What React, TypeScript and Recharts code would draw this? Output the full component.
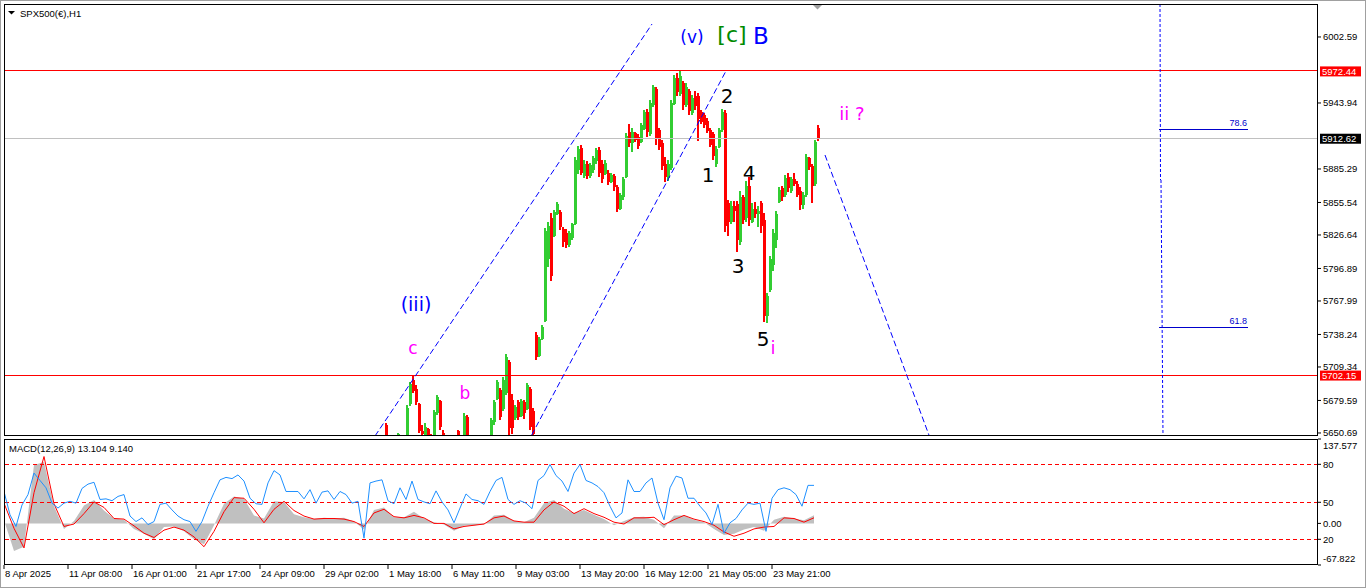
import { Area, Bar, ComposedChart, Line, ReferenceDot, ReferenceLine, XAxis, YAxis } from 'recharts'

const FONT = "'Liberation Sans', Arial, sans-serif"
const WAVE_FONT = "'DejaVu Sans', Verdana, sans-serif"
const BULL = '#32cd32'
const BEAR = '#ff0000'

// H1 bars, one sample every 3 bars from bar 376: [open, high, low, close]
const CANDLE_FIRST_BAR = 376
const CANDLE_STEP = 3
const candles: [number, number, number, number][] = [
  [5630, 5640, 5622, 5636], [5636, 5642, 5628, 5632], [5658, 5659.6, 5645, 5646], [5640, 5644, 5630, 5636],
  [5636, 5642, 5628, 5638], [5638, 5645, 5632, 5642], [5645, 5650.7, 5644, 5650], [5645, 5646, 5635, 5640],
  [5640, 5645, 5632, 5644], [5645, 5675.6, 5644, 5673], [5676, 5696, 5675, 5694], [5698, 5701.5, 5686, 5688],
  [5690, 5693.4, 5675.6, 5678], [5676, 5677.4, 5650.7, 5652], [5652, 5657.8, 5646, 5650], [5647, 5659.6, 5645, 5656],
  [5654, 5655, 5645, 5648], [5649, 5650, 5640, 5645], [5649, 5671, 5648, 5669], [5668, 5684.5, 5666.6, 5683],
  [5679, 5680, 5653, 5656], [5651, 5653, 5646, 5648], [5646, 5648, 5640, 5644], [5644, 5646, 5636, 5640],
  [5640, 5644, 5634, 5642], [5642, 5646, 5636, 5638], [5652, 5653, 5645, 5647], [5646, 5647, 5638, 5644],
  [5647, 5668.5, 5645, 5666], [5665, 5666.7, 5645, 5648], [5646, 5648, 5638, 5642], [5642, 5646, 5634, 5640],
  [5640, 5644, 5632, 5638], [5638, 5643, 5630, 5641], [5641, 5645, 5634, 5636], [5636, 5644, 5633, 5642],
  [5642, 5646, 5638, 5645], [5646, 5664, 5645, 5662], [5660, 5680, 5658, 5678], [5681, 5697.8, 5680, 5696],
  [5689, 5690.7, 5662.3, 5665], [5672, 5700, 5670, 5698], [5686, 5720.9, 5684.5, 5718], [5714, 5715.6, 5648.9, 5655],
  [5680, 5685, 5650, 5655], [5664, 5675.6, 5662, 5674], [5678, 5680, 5662, 5665], [5666, 5681, 5665, 5679],
  [5678, 5680, 5663, 5668], [5672, 5695, 5671, 5693], [5690, 5691.6, 5653.4, 5656], [5670, 5673, 5647, 5650],
  [5738, 5740, 5715.6, 5718], [5719, 5736, 5718, 5734], [5734, 5746.7, 5733, 5745], [5750, 5832.9, 5749.3, 5830],
  [5805, 5838, 5798, 5835], [5842, 5846, 5786, 5790], [5826, 5849, 5825, 5847], [5845, 5856, 5844.5, 5854],
  [5847, 5848.9, 5831, 5834], [5832, 5833.8, 5816, 5820], [5828, 5832, 5815, 5818], [5818, 5830, 5816, 5828],
  [5824, 5837.5, 5822, 5836], [5836, 5896, 5835.5, 5893], [5884, 5906, 5881, 5903], [5904, 5906.6, 5880, 5882],
  [5879, 5893, 5877, 5890], [5890, 5892, 5876, 5879], [5879, 5891, 5877, 5889], [5884, 5897, 5882, 5895],
  [5892, 5904, 5890, 5902], [5902, 5905, 5878, 5882], [5890, 5893, 5873, 5876], [5881, 5893, 5880, 5891],
  [5882, 5884, 5871, 5874], [5874, 5882, 5873, 5880], [5879, 5881, 5866, 5869], [5869, 5871, 5847, 5850],
  [5850, 5864, 5849, 5862], [5860, 5878, 5858, 5876], [5878, 5917, 5877, 5915], [5918, 5925, 5905, 5908],
  [5908, 5922, 5900, 5918], [5917, 5918, 5909, 5911], [5914, 5916, 5903, 5906], [5909, 5926, 5908, 5924],
  [5921, 5937.7, 5920, 5936], [5936, 5939, 5914, 5918], [5916, 5946.6, 5915, 5944], [5942, 5960, 5940, 5958],
  [5956, 5958, 5907, 5912], [5920, 5922, 5902, 5905], [5908, 5911, 5884, 5888], [5890, 5896, 5874, 5878],
  [5877, 5893, 5875, 5890], [5886, 5946.6, 5884.4, 5944], [5943, 5968.8, 5942, 5966], [5966, 5971, 5950, 5954],
  [5952, 5973.3, 5950, 5968], [5962, 5963.7, 5938, 5942], [5942, 5962, 5940, 5958], [5955, 5956, 5933, 5937],
  [5935, 5951, 5933, 5948], [5950, 5955, 5938, 5941], [5950, 5953, 5910, 5930], [5936, 5938, 5925, 5927],
  [5933, 5935, 5922, 5924], [5928, 5931, 5917, 5919], [5920, 5922, 5905, 5907], [5916, 5918, 5893, 5897],
  [5890, 5906, 5887, 5903], [5905, 5922, 5904, 5920], [5920, 5938.6, 5918, 5936], [5935, 5938, 5829.3, 5835],
  [5855, 5858, 5826, 5838], [5838, 5857, 5836, 5852], [5852, 5857, 5838, 5848], [5854, 5857, 5811.6, 5822],
  [5820, 5866, 5818, 5860], [5860, 5862, 5836, 5840], [5842, 5875, 5838, 5870], [5870, 5878, 5835, 5840],
  [5838, 5855, 5837, 5850], [5850, 5856, 5842, 5845], [5845, 5852, 5834, 5848], [5855, 5857, 5828, 5835],
  [5840, 5846, 5749.4, 5755], [5755, 5775, 5748, 5772], [5778, 5808, 5776, 5805], [5800, 5832, 5795, 5828],
  [5822, 5848, 5815, 5845], [5856, 5869.5, 5855, 5867], [5868, 5870, 5857, 5860], [5862, 5880, 5860, 5877],
  [5878, 5882, 5865, 5868], [5866, 5878, 5864, 5876], [5876, 5882, 5870, 5872], [5872, 5875, 5860, 5862],
  [5866, 5869, 5849, 5853], [5853, 5865, 5850, 5862], [5862, 5899, 5860, 5896], [5895, 5896, 5884, 5887],
  [5888, 5890, 5855, 5870], [5872, 5911, 5870, 5909], [5922, 5924.5, 5910, 5912.62],
]

const priceTicks = [6002.59, 5943.94, 5885.29, 5855.54, 5826.64, 5796.89, 5767.99, 5738.24, 5709.34, 5679.59, 5650.69]
const priceDomain: [number, number] = [5648.0, 6031.9]
const resistance = 5972.44
const support = 5702.15
const lastPrice = 5912.62

const upperChannel = [{ x: 371, y: 5648 }, { x: 648, y: 6014.1 }]
const lowerChannel = [{ x: 527.7, y: 5648.9 }, { x: 722, y: 5972.4 }]
const projection = [{ x: 821, y: 5897.7 }, { x: 925.3, y: 5648 }]
const fibTimeTop = [{ x: 1156, y: 6031.9 }, { x: 1156.5, y: 5875.5 }]
const fibTimeBottom = [{ x: 1157, y: 5875.5 }, { x: 1159, y: 5648 }]
const fibNames = ['78.6', '61.8']
const fibPrices = [5920.6, 5744.6]
const fibFrom = 1155
const fibTo = 1244

const waveText = ['(iii)', 'c', 'b', '(v)', '[c]', 'B', '2', '1', '4', '3', '5', 'i', 'ii ?']
const waveBar = [412, 409, 461, 688, 728, 757, 723, 704, 745, 734, 759, 769, 848]
const wavePrice = [5765.3, 5726.5, 5686.2, 6002.3, 6004.4, 6003.8, 5950.2, 5880, 5881.5, 5799.1, 5734, 5726.9, 5934.8]
const waveLook: Record<string, { color: string; size: number }> = {
  '(iii)': { color: '#0000ff', size: 19 },
  '(v)': { color: '#0000ff', size: 17 },
  B: { color: '#0000ff', size: 23 },
  '[c]': { color: '#008a00', size: 22 },
  c: { color: '#ff00ff', size: 17 },
  b: { color: '#ff00ff', size: 17 },
  i: { color: '#ff00ff', size: 18 },
  'ii ?': { color: '#ff00ff', size: 18 },
}

// MACD window: blue oscillator every 6 bars, histogram and signal every 10 bars
const BLUE_STEP = 6
const blueLine = [
  52, 14, -5, 30, 47, 82, 70, 58, 33, 25, 33, 36, 33, 57, 64, 67, 39, 40, 37, 44,
  47, 12, 3, 9, -2, 3, 31, 33, 22, 12, 6, 3, -13, 3, 28, 50, 71, 75, 73, 79,
  69, 41, 32, 31, 66, 86, 79, 52, 52, 52, 40, 55, 33, 51, 53, 39, 52, 47, 33, 36,
  -24, 66, 69, 71, 37, 32, 58, 39, 69, 39, 35, 32, 53, 35, 22, 1, 25, 48, 39, 37,
  31, 52, 70, 75, 39, 31, 37, 33, 24, 70, 78, 96, 78, 69, 52, 82, 96, 70, 66, 60,
  50, 28, 9, 17, 71, 52, 52, 66, 74, 33, 6, 58, 77, 74, 41, 41, 28, 17, -2, 31,
  -16, 1, 8, 22, 33, 31, 33, -13, 41, 55, 58, 55, 47, 28, 62, 62,
]
const MACD_STEP = 10
const macdHist = [
  5, -45, -38, 95, 100, 28, -9, 4, 29, 38, 21, 8, 6, -9, -17, -26, -6, -5, -13, -26,
  -34, -3, 32, 44, 40, 13, 8, 36, 35, 15, 10, 7, 9, 8, 9, 3, -10, 22, 26, 10,
  10, 19, 8, 2, -2, -12, -4, -3, -2, 13, 14, 4, 2, 9, 33, 38, 24, 17, 22, 14,
  7, -3, 4, 10, 11, 6, -8, 13, 13, 6, 2, -9, -19, -17, -10, -6, -12, 6, 11, 8,
  5, 13.104,
]
const macdSignal = [
  33, -8, -40, 50, 109, 32, -5, -1, 16, 35, 26, 8, 7, -4, -16, -23, -11, -6, -11, -22,
  -38, -13, 19, 42, 41, 23, 1, 23, 36, 21, 12, 7, 8, 8, 7, 3, -5, 17, 23, 11,
  9, 13, 9, 0, 0, -9, -5, -3, -1, 9, 12, 4, 2, 2, 22, 35, 28, 16, 24, 16,
  10, 2, -1, 9, 9, 10, -2, 6, 13, 7, 3, -3, -14, -21, -16, -9, -6, -5, 9, 8,
  2, 9.14,
]
const macdDomain: [number, number] = [-67.822, 137.577]
const levelValues = [137.577, 96.3, 34.4, 0, -25.9, -67.822]
const levelLabels = ['137.577', '80', '50', '0.00', '20', '-67.822']
const dashedLevels = [96.3, 34.4, -25.9]

const timeTicks = [0, 64, 128, 192, 256, 320, 384, 448, 512, 576, 640, 704, 768]
const timeLabels = [
  '8 Apr 2025', '11 Apr 08:00', '16 Apr 01:00', '21 Apr 17:00', '24 Apr 09:00', '29 Apr 02:00', '1 May 18:00',
  '6 May 11:00', '9 May 03:00', '13 May 20:00', '16 May 12:00', '21 May 05:00', '23 May 21:00',
]

const BAR_SPAN: [number, number] = [0, 1314]

const candleRows = candles.map(([open, high, low, close], i) => ({
  bar: CANDLE_FIRST_BAR + i * CANDLE_STEP,
  open,
  high,
  low,
  close,
}))

const macdRows = (() => {
  const rows = new Map<number, Record<string, number>>()
  blueLine.forEach((v, i) => {
    const bar = i * BLUE_STEP
    rows.set(bar, { ...(rows.get(bar) ?? { bar }), blue: v })
  })
  macdHist.forEach((v, i) => {
    const bar = i * MACD_STEP
    rows.set(bar, { ...(rows.get(bar) ?? { bar }), hist: v, signal: macdSignal[i] })
  })
  return [...rows.values()].sort((a, b) => a.bar - b.bar)
})()

function Candle(props: any) {
  const { x, y, width, height, payload } = props
  if (!payload || height == null) return null
  const { open, high, low, close } = payload
  const span = high - low || 1
  const at = (v: number) => y + ((high - v) / span) * height
  const cx = Math.round(x + width / 2)
  const color = close > open ? BULL : close < open ? BEAR : '#000'
  const top = at(Math.max(open, close))
  const bottom = at(Math.min(open, close))
  return (
    <g shapeRendering='crispEdges'>
      <rect x={cx - 1} y={y} width={2} height={Math.max(1, height)} fill={color} />
      <rect x={cx - 1} y={top} width={3} height={Math.max(1, bottom - top)} fill={color} />
    </g>
  )
}

const priceBox = (value: number, bg: string) => (props: any) => {
  const { viewBox } = props
  const x = viewBox.x + viewBox.width + 2
  const y = viewBox.y
  return (
    <g>
      <rect x={x} y={y - 4.5} width={41} height={10} fill={bg} />
      <text x={x + 2} y={y + 0.5} dy='0.36em' fill='#fff' fontSize={9.5} fontFamily={FONT}>
        {value.toFixed(2)}
      </text>
    </g>
  )
}

const fibLabel = (name: string) => (props: any) => {
  const { viewBox } = props
  return (
    <text x={viewBox.x + viewBox.width - 1} y={viewBox.y - 3} textAnchor='end' fill='#0000cc' fontSize={9} fontFamily={FONT}>
      {name}
    </text>
  )
}

const waveLabel = (text: string) => (props: any) => {
  const { viewBox } = props
  const look = waveLook[text] ?? { color: '#000', size: 20 }
  return (
    <text
      x={viewBox.x + (viewBox.width || 0) / 2}
      y={viewBox.y + (viewBox.height || 0) / 2}
      textAnchor='middle'
      dominantBaseline='central'
      fill={look.color}
      fontSize={look.size}
      fontFamily={WAVE_FONT}
    >
      {text}
    </text>
  )
}

function PriceTick(props: any) {
  const { x, y, payload } = props
  return (
    <text x={x} y={y} dy='0.36em' fill='#000' fontSize={9.5} fontFamily={FONT} textAnchor='start'>
      {Number(payload.value).toFixed(2)}
    </text>
  )
}

function LevelTick(props: any) {
  const { x, y, payload } = props
  const i = levelValues.indexOf(payload.value)
  const shift = i === 0 ? 7 : i === levelValues.length - 1 ? -6 : 0
  return (
    <text x={x} y={y + shift} dy='0.36em' fill='#000' fontSize={9.5} fontFamily={FONT} textAnchor='start'>
      {levelLabels[i]}
    </text>
  )
}

function TimeTick(props: any) {
  const { x, y, payload } = props
  const i = timeTicks.indexOf(payload.value)
  return (
    <text x={x + 1} y={y} dy='0.71em' fill='#000' fontSize={9.5} fontFamily={FONT} textAnchor='start'>
      {timeLabels[i]}
    </text>
  )
}

export default function App() {
  return (
    <div style={{ position: 'absolute', left: 0, top: 0, width: 1366, height: 588, background: '#fff', overflow: 'hidden' }}>
      <div style={{ position: 'absolute', left: 0, top: 0 }}>
        <ComposedChart width={1366} height={440} data={candleRows} margin={{ top: 4, right: 0, bottom: 4, left: 4 }}>
          <XAxis dataKey='bar' type='number' domain={BAR_SPAN} allowDataOverflow hide />
          <YAxis
            orientation='right'
            width={48}
            domain={priceDomain}
            allowDataOverflow
            ticks={priceTicks}
            interval={0}
            axisLine={false}
            tickSize={3}
            tickMargin={2}
            tickLine={{ stroke: '#000' }}
            tick={PriceTick}
          />
          <ReferenceLine y={lastPrice} stroke='#c0c0c0' shapeRendering='crispEdges' label={priceBox(lastPrice, '#000')} />
          <ReferenceLine y={resistance} stroke='#ff0000' shapeRendering='crispEdges' label={priceBox(resistance, '#ff0000')} />
          <ReferenceLine y={support} stroke='#ff0000' shapeRendering='crispEdges' label={priceBox(support, '#ff0000')} />
          <Bar dataKey={(d: any) => [d.low, d.high]} barSize={2} shape={Candle} isAnimationActive={false} />
          <ReferenceLine segment={upperChannel} stroke='#0000ff' strokeDasharray='6 3' ifOverflow='hidden' />
          <ReferenceLine segment={lowerChannel} stroke='#0000ff' strokeDasharray='6 3' ifOverflow='hidden' />
          <ReferenceLine segment={projection} stroke='#0000ff' strokeDasharray='6 3' ifOverflow='hidden' />
          <ReferenceLine segment={fibTimeTop} stroke='#0000ff' strokeDasharray='3 2' ifOverflow='hidden' />
          <ReferenceLine segment={fibTimeBottom} stroke='#0000ff' strokeDasharray='3 2' ifOverflow='hidden' />
          {fibPrices.map((p, i) => (
            <ReferenceLine
              key={fibNames[i]}
              segment={[{ x: fibFrom, y: p }, { x: fibTo, y: p }]}
              stroke='#0000cc'
              shapeRendering='crispEdges'
              label={fibLabel(fibNames[i])}
            />
          ))}
          {waveText.map((t, i) => (
            <ReferenceDot key={t + i} x={waveBar[i]} y={wavePrice[i]} r={0} fill='none' stroke='none' label={waveLabel(t)} />
          ))}
        </ComposedChart>
      </div>
      <div style={{ position: 'absolute', left: 0, top: 435 }}>
        <ComposedChart width={1366} height={153} data={macdRows} margin={{ top: 4, right: 0, bottom: 0, left: 4 }}>
          <XAxis
            dataKey='bar'
            type='number'
            domain={BAR_SPAN}
            allowDataOverflow
            ticks={timeTicks}
            interval={0}
            height={23}
            axisLine={false}
            tickSize={4}
            tickMargin={1}
            tickLine={{ stroke: '#000' }}
            tick={TimeTick}
          />
          <YAxis
            orientation='right'
            width={48}
            domain={macdDomain}
            allowDataOverflow
            ticks={levelValues}
            interval={0}
            axisLine={false}
            tickSize={3}
            tickMargin={2}
            tickLine={{ stroke: '#000' }}
            tick={LevelTick}
          />
          {dashedLevels.map((v) => (
            <ReferenceLine key={v} y={v} stroke='#ff0000' strokeDasharray='4 3' shapeRendering='crispEdges' />
          ))}
          <Area
            dataKey='hist'
            type='linear'
            baseValue={0}
            fill='#c0c0c0'
            fillOpacity={1}
            stroke='none'
            connectNulls
            isAnimationActive={false}
          />
          <Line dataKey='signal' type='linear' stroke='#ff0000' strokeWidth={1} dot={false} connectNulls isAnimationActive={false} />
          <Line dataKey='blue' type='linear' stroke='#1e90ff' strokeWidth={1} dot={false} connectNulls isAnimationActive={false} />
        </ComposedChart>
      </div>
      <svg width={1366} height={588} style={{ position: 'absolute', left: 0, top: 0, pointerEvents: 'none' }}>
        <rect x={0.5} y={0.5} width={1365} height={587} fill='none' stroke='#a0a0a0' />
        <rect x={4.5} y={4.5} width={1313} height={431} fill='none' stroke='#000' />
        <rect x={4.5} y={439.5} width={1313} height={125} fill='none' stroke='#000' />
        <polygon points='8,11 15,11 11.5,14.5' fill='#000' />
        <polygon points='813,5 822,5 817.5,9.5' fill='#a0a0a0' />
        <text x={20} y={16.5} fontSize={9.5} fontFamily={FONT} fill='#000'>
          SPX500(€),H1
        </text>
        <text x={9} y={452} fontSize={9.5} fontFamily={FONT} fill='#000'>
          MACD(12,26,9) 13.104 9.140
        </text>
      </svg>
    </div>
  )
}
